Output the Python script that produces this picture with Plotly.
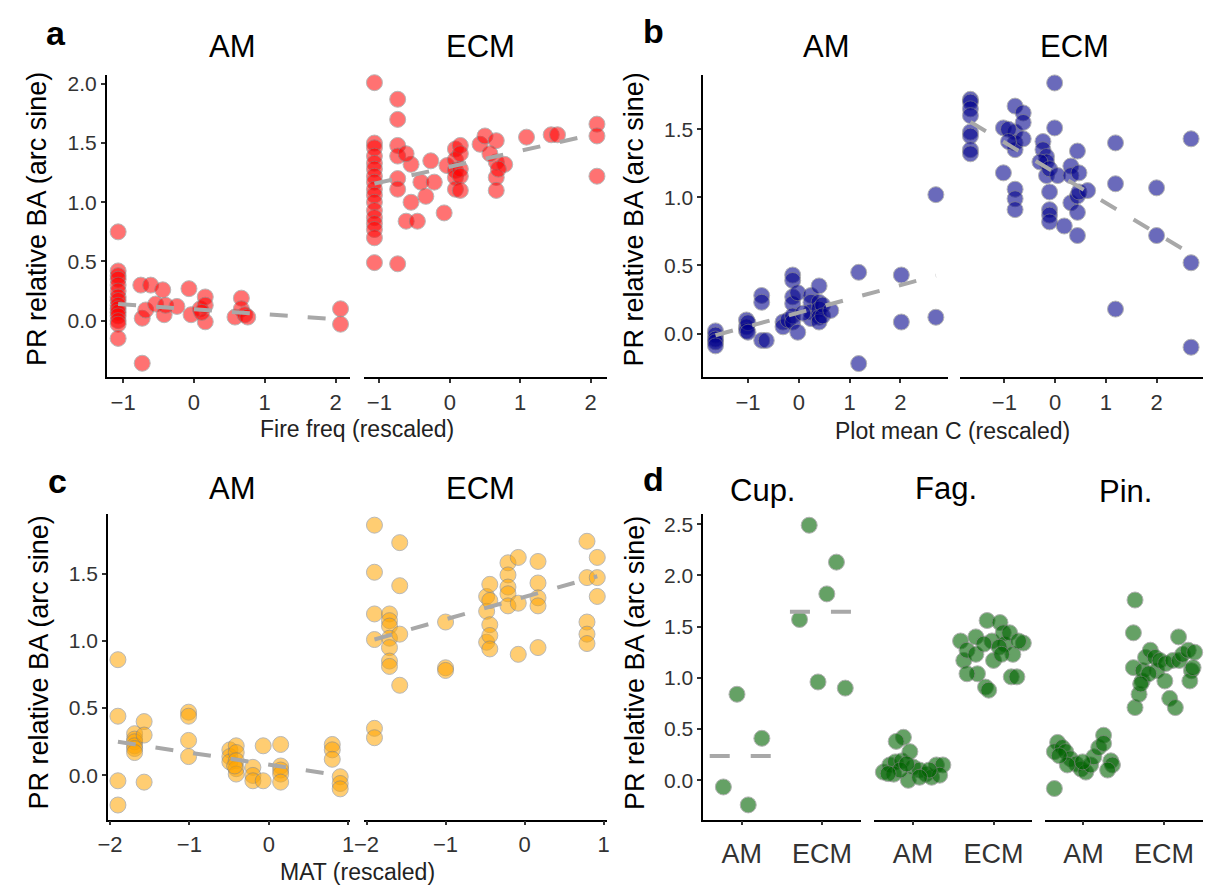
import plotly.graph_objects as go

W, H = 1210, 892
FONT = "Liberation Sans, Arial, sans-serif"

# ---------------- panel a : fire frequency ----------------
a_am_x = [-1.07] * 15 + [-0.75, -0.73, -0.73, -0.61, -0.68, -0.54, -0.44, -0.42, -0.40, -0.24,
                         -0.07, -0.04, 0.09, 0.16, 0.16, 0.16, 0.11, 0.67, 0.67, 0.58, 0.72, 0.76,
                         2.07, 2.07]
a_am_y = [0.75, 0.42, 0.38, 0.35, 0.30, 0.25, 0.20, 0.17, 0.13, 0.10, 0.07, 0.04, 0.00, -0.03, -0.15,
          0.30, 0.02, -0.36, 0.30, 0.09, 0.14, 0.26, 0.05, 0.13, 0.12,
          0.27, 0.05, 0.10, 0.20, 0.13, -0.01, 0.07, 0.19, 0.10, 0.03, 0.05, 0.03,
          0.10, -0.03]
a_ecm_x = ([-1.07] * 17 + [-0.74] * 7 +
           [-0.62, -0.55, -0.55, -0.46, -0.41, -0.34, -0.27, -0.22, -0.62, -0.08, -0.04] +
           [0.08] * 5 + [0.15] * 5 + [0.43, 0.50] + [0.66] * 4 +
           [0.57, 0.78, 0.69, 1.09, 1.44, 1.53] + [2.09] * 3)
a_ecm_y = ([2.01, 1.50, 1.46, 1.39, 1.33, 1.28, 1.22, 1.17, 1.11, 1.06, 1.00, 0.93, 0.87, 0.82, 0.77, 0.70, 0.49] +
           [1.87, 1.70, 1.48, 1.39, 1.20, 1.11, 0.48] +
           [0.84, 1.00, 1.32, 0.84, 1.17, 1.05, 1.35, 1.17, 1.41, 0.91, 1.31] +
           [1.45, 1.36, 1.27, 1.21, 1.11] + [1.48, 1.41, 1.28, 1.22, 1.10] + [1.49, 1.56] +
           [1.52, 1.34, 1.21, 1.10] + [1.41, 1.32, 1.28, 1.55, 1.57, 1.57] + [1.66, 1.56, 1.22])
a_am_trend = ([-1.07, 2.07], [0.14, 0.01])
a_ecm_trend = ([-1.07, 2.09], [1.157, 1.58])

# ---------------- panel b : plot mean C ----------------
b_am_x = ([-1.64] * 5 + [-1.03] * 3 + [-1.00] * 2 + [-0.73] * 3 + [-0.64] + [-0.31] * 2 + [-0.21] +
          [-0.12] * 6 + [-0.02] * 2 + [0.24] * 4 + [0.40] * 5 + [0.47] * 2 +
          [0.63, 0.08, 1.18, 1.18, 2.02, 2.02, 2.70, 2.70])
b_am_y = ([0.02, -0.01, -0.04, -0.06, -0.09] + [0.10, 0.05, 0.02] + [0.08, 0.01] + [0.28, 0.23, -0.05] +
          [-0.05] + [0.085, 0.05] + [0.10] + [0.43, 0.39, 0.27, 0.22, 0.13, 0.085] + [0.30, 0.01] +
          [0.28, 0.23, 0.16, 0.11] + [0.35, 0.23, 0.18, 0.12, 0.085] + [0.21, 0.13] +
          [0.17, 0.15, 0.45, -0.22, 0.43, 0.085, 1.02, 0.12])
b_ecm_x = ([-1.67] * 8 + [-1.02] * 2 + [-0.79] * 7 + [-0.63] * 3 + [-0.92] * 2 + [-0.24] * 2 +
           [-0.17] * 3 + [-0.30] + [-0.11] * 5 + [-0.01] * 2 + [0.05, 0.18] + [0.31] * 3 +
           [0.44] * 4 + [0.47] * 2 + [0.64] + [1.19] * 3 + [2.00] * 2 + [2.68] * 3)
b_ecm_y = ([1.72, 1.70, 1.65, 1.60, 1.48, 1.45, 1.35, 1.32] + [1.51, 1.18] +
           [1.67, 1.48, 1.40, 1.35, 1.06, 0.99, 0.91] + [1.62, 1.55, 1.43] + [1.50, 1.41] + [1.41, 1.35] +
           [1.30, 1.26, 1.16] + [1.26] + [1.21, 1.04, 0.91, 0.87, 0.82] + [1.84, 1.51] + [1.16, 0.79] +
           [1.23, 1.16, 0.96] + [1.34, 1.01, 0.72, 0.89] + [1.18, 1.04] + [1.05] +
           [1.40, 1.10, 0.18] + [1.07, 0.72] + [1.43, 0.52, -0.10])
b_am_trend = ([-1.64, 2.70], [-0.012, 0.426])
b_ecm_trend = ([-1.67, 2.68], [1.553, 0.585])

# ---------------- panel c : mean annual temperature ----------------
c_am_x = ([-1.90] * 4 + [-1.69] * 6 + [-1.57] * 3 + [-1.01] * 4 + [-0.49] * 3 + [-0.41] * 5 +
          [-0.43] + [-0.20] * 3 + [-0.07] * 2 + [0.15] * 5 + [0.80] * 3 + [0.90] * 3)
c_am_y = ([0.86, 0.44, -0.04, -0.22] + [0.31, 0.27, 0.25, 0.22, 0.20, 0.17] + [0.40, 0.30, -0.05] +
          [0.47, 0.44, 0.26, 0.14] + [0.19, 0.14, 0.10] + [0.22, 0.17, 0.11, 0.05, 0.01] + [0.07] +
          [0.06, 0.00, -0.04] + [0.22, -0.04] + [0.23, 0.07, 0.04, 0.01, -0.05] +
          [0.23, 0.19, 0.12] + [-0.01, -0.06, -0.10])
c_ecm_x = ([-1.90] * 6 + [-1.71] * 7 + [-1.58] * 4 + [-1.00] * 3 + [-0.48] * 3 + [-0.44] * 5 +
           [-0.21] * 5 + [-0.08] * 3 + [0.17] * 5 + [0.79] * 5 + [0.92] * 3)
c_ecm_y = ([1.86, 1.51, 1.20, 1.01, 0.35, 0.28] + [1.20, 1.15, 1.11, 1.02, 0.95, 0.85, 0.81] +
           [1.73, 1.41, 1.05, 0.67] + [1.14, 0.80, 0.78] + [1.33, 1.22, 0.99] +
           [1.42, 1.30, 1.12, 1.04, 0.94] + [1.58, 1.49, 1.40, 1.35, 1.26] + [1.62, 1.28, 0.90] +
           [1.59, 1.43, 1.32, 1.26, 0.95] + [1.74, 1.47, 1.14, 1.05, 0.98] + [1.62, 1.47, 1.33])
c_am_trend = ([-1.90, 0.90], [0.25, 0.0])
c_ecm_trend = ([-1.90, 0.92], [1.01, 1.48])

# ---------------- panel d : families, jittered by mycorrhizal type ----------------
types = ["AM", "ECM"]
cup_am_jit = [-0.23, -0.06, 0.08, 0.25]
cup_am_y = [-0.065, 0.84, -0.24, 0.41]
cup_ecm_jit = [-0.28, -0.16, -0.05, 0.06, 0.18, 0.29]
cup_ecm_y = [1.57, 2.49, 0.96, 1.82, 2.13, 0.90]
fag_am_jit = [-0.37, -0.29, -0.22, -0.12, -0.14, -0.06, -0.04, 0.00, 0.08, 0.16, 0.23, 0.29, 0.37,
              0.33, 0.20, 0.08, -0.24, -0.16, -0.31, -0.08, -0.21]
fag_am_y = [0.08, 0.15, 0.18, 0.42, 0.19, 0.00, 0.28, 0.13, 0.10, 0.06, 0.03, 0.15, 0.15,
            0.05, 0.10, 0.03, 0.06, 0.10, 0.065, 0.16, 0.38]
fag_ecm_jit = [-0.41, -0.37, -0.22, -0.33, -0.22, -0.20, -0.10, -0.08, -0.02, 0.00, 0.08, 0.12,
               0.14, 0.20, 0.24, 0.22, 0.29, 0.37, 0.31, 0.07, -0.12, -0.06, -0.33, 0.10]
fag_ecm_y = [1.36, 1.17, 1.40, 1.27, 1.23, 1.04, 0.91, 1.56, 1.36, 1.17, 1.54, 1.44,
             1.33, 1.44, 1.23, 1.01, 1.01, 1.34, 1.36, 1.30, 1.33, 0.88, 1.04, 1.23]
pin_am_jit = [-0.36, -0.32, -0.36, -0.26, -0.22, -0.16, -0.09, -0.03, 0.03, 0.09, 0.13, 0.19, 0.25,
              0.25, 0.34, 0.36, 0.30, -0.20, -0.30, -0.01]
pin_am_y = [-0.08, 0.37, 0.28, 0.32, 0.28, 0.21, 0.16, 0.11, 0.08, 0.15, 0.23, 0.32, 0.44,
            0.36, 0.19, 0.15, 0.10, 0.15, 0.24, 0.18]
pin_ecm_jit = [-0.36, -0.38, -0.38, -0.36, -0.31, -0.27, -0.26, -0.23, -0.17, -0.11, -0.09, -0.05,
               0.01, 0.02, 0.07, 0.14, 0.11, 0.18, 0.19, 0.23, 0.30, 0.34, 0.32, 0.38, 0.36,
               -0.19, -0.29]
pin_ecm_y = [1.76, 1.44, 1.10, 0.71, 0.84, 0.97, 1.07, 1.20, 1.27, 1.20, 1.07, 1.17,
             0.97, 1.14, 0.80, 0.71, 1.17, 1.40, 1.17, 1.23, 1.27, 1.07, 0.97, 1.25, 1.10,
             1.04, 0.94]

fig = go.Figure()


def ax_name(kind, i):
    return kind if i == 1 else f"{kind}{i}"


def ref(kind, i):
    return kind[0] if i == 1 else f"{kind[0]}{i}"


def add_axes(i, xpx, ypx, xr, yr, show_y, ytick=0.5, xtickvals=None, xticktext=None, xfont=22):
    xa = dict(domain=[xpx[0] / W, xpx[1] / W], anchor=ref("y", i), range=xr,
              showline=True, linecolor="black", linewidth=1.8, showgrid=False, zeroline=False,
              ticks="outside", ticklen=4, tickwidth=1.5, tickcolor="#333",
              tickfont=dict(family=FONT, size=xfont, color="#333"), fixedrange=True)
    if xtickvals is None:
        xa.update(tickmode="linear", tick0=0, dtick=1)
    else:
        xa.update(tickmode="array", tickvals=xtickvals, ticktext=xticktext,
                  ticklabelstandoff=5)
    ya = dict(domain=[1 - ypx[1] / H, 1 - ypx[0] / H], anchor=ref("x", i), range=yr,
              showgrid=False, zeroline=False, fixedrange=True)
    if show_y:
        ya.update(showline=True, linecolor="black", linewidth=1.8, ticks="outside", ticklen=4,
                  tickwidth=1.5, tickcolor="#333", tickmode="linear", tick0=0, dtick=ytick,
                  tickformat=".1f", tickfont=dict(family=FONT, size=21, color="#333"))
    else:
        ya.update(showline=False, showticklabels=False, ticks="")
    fig.update_layout(**{ax_name("xaxis", i): xa, ax_name("yaxis", i): ya})


def points(i, x, y, color, alpha):
    fig.add_trace(go.Scatter(
        x=x, y=y, mode="markers", xaxis=ref("x", i), yaxis=ref("y", i), showlegend=False,
        cliponaxis=False,
        marker=dict(size=16, color=color, opacity=alpha, line=dict(color="#7f7f7f", width=1))))


def trend(i, line):
    fig.add_trace(go.Scatter(
        x=line[0], y=line[1], mode="lines", xaxis=ref("x", i), yaxis=ref("y", i), showlegend=False,
        line=dict(color="#a8a8a8", width=4, dash="18px,20px")))


# axes layout
ya_rng = [-0.479, 2.077]
yb_rng = [-0.321, 1.895]
yc_rng = [-0.328, 1.943]
yd_rng = [-0.383, 2.60]
add_axes(1, (97, 343), (72, 375.6), [-1.23, 2.2], ya_rng, True)
add_axes(2, (357.3, 603), (72, 375.6), [-1.22, 2.226], ya_rng, False)
add_axes(3, (701, 948.3), (72.7, 375.6), [-1.88, 2.93], yb_rng, True)
add_axes(4, (960.7, 1206.7), (72.7, 375.6), [-1.88, 2.91], yb_rng, False)
add_axes(5, (98.3, 343.3), (512.7, 819.3), [-2.024, 1.024], yc_rng, True)
add_axes(6, (357.3, 603.3), (512.7, 819.3), [-2.034, 1.041], yc_rng, False)
cat_pos = [1, 2]
add_axes(7, (701, 861), (512.7, 819.3), [0.52, 2.49], yd_rng, True,
         xtickvals=cat_pos, xticktext=types, xfont=27)
add_axes(8, (874.3, 1034), (512.7, 819.3), [0.52, 2.48], yd_rng, False,
         xtickvals=cat_pos, xticktext=types, xfont=27)
add_axes(9, (1046.7, 1206.7), (512.7, 819.3), [0.52, 2.48], yd_rng, False,
         xtickvals=cat_pos, xticktext=types, xfont=27)

RED, NAVY, ORANGE, GREEN = "#ff0000", "#00008b", "#ffa500", "#006400"

points(1, a_am_x, a_am_y, RED, 0.55)
points(2, a_ecm_x, a_ecm_y, RED, 0.55)
trend(1, a_am_trend)
trend(2, a_ecm_trend)

points(3, b_am_x, b_am_y, NAVY, 0.58)
points(4, b_ecm_x, b_ecm_y, NAVY, 0.58)
trend(3, b_am_trend)
trend(4, b_ecm_trend)

points(5, c_am_x, c_am_y, ORANGE, 0.55)
points(6, c_ecm_x, c_ecm_y, ORANGE, 0.55)
trend(5, c_am_trend)
trend(6, c_ecm_trend)

family_groups = [
    (7, (cup_am_jit, cup_am_y), (cup_ecm_jit, cup_ecm_y)),
    (8, (fag_am_jit, fag_am_y), (fag_ecm_jit, fag_ecm_y)),
    (9, (pin_am_jit, pin_am_y), (pin_ecm_jit, pin_ecm_y)),
]
for i, am, ecm in family_groups:
    for pos, (jit, yy) in zip(cat_pos, (am, ecm)):
        points(i, [pos + j for j in jit], yy, GREEN, 0.6)

# group means for Cupressaceae
for pos, yy in zip(cat_pos, (cup_am_y, cup_ecm_y)):
    m = sum(yy) / len(yy)
    fig.add_trace(go.Scatter(
        x=[pos - 0.4, pos + 0.4], y=[m, m], mode="lines", xaxis="x7", yaxis="y7",
        showlegend=False, line=dict(color="#a8a8a8", width=4, dash="20px,21px")))

# text: panel letters, facet strips, axis titles
ann = []


def text(x, y, s, size, bold=False, angle=0, color="black"):
    ann.append(dict(x=x / W, y=1 - y / H, xref="paper", yref="paper", text=f"<b>{s}</b>" if bold else s,
                    showarrow=False, xanchor="center", yanchor="middle", textangle=angle,
                    font=dict(family=FONT, size=size, color=color)))


for lx, ly, s in [(46, 30, "a"), (651, 28, "b"), (47, 480, "c"), (651, 478, "d")]:
    text(lx, ly, s, 34, bold=True)

for sx, sy, s in [(224, 44, "AM"), (475, 44, "ECM"), (826, 44, "AM"), (1077, 44, "ECM"),
                  (224, 487, "AM"), (475, 487, "ECM"),
                  (761, 489, "Cup."), (947, 487, "Fag."), (1128, 490, "Pin.")]:
    text(sx, sy, s, 31)

ytitle = "PR relative BA (arc sine)"
for tx, ty in [(27, 217), (631, 217), (28, 662), (632, 662)]:
    text(tx, ty, ytitle, 27, angle=-90)

for tx, ty, s in [(350, 427, "Fire freq (rescaled)"), (953, 429, "Plot mean C (rescaled)"),
                  (351, 872, "MAT (rescaled)")]:
    text(tx, ty, s, 23, color="#222")

fig.update_layout(width=W, height=H, autosize=False, margin=dict(l=0, r=0, t=0, b=0),
                  paper_bgcolor="white", plot_bgcolor="white", annotations=ann,
                  font=dict(family=FONT))

fig.write_html("out.html")
